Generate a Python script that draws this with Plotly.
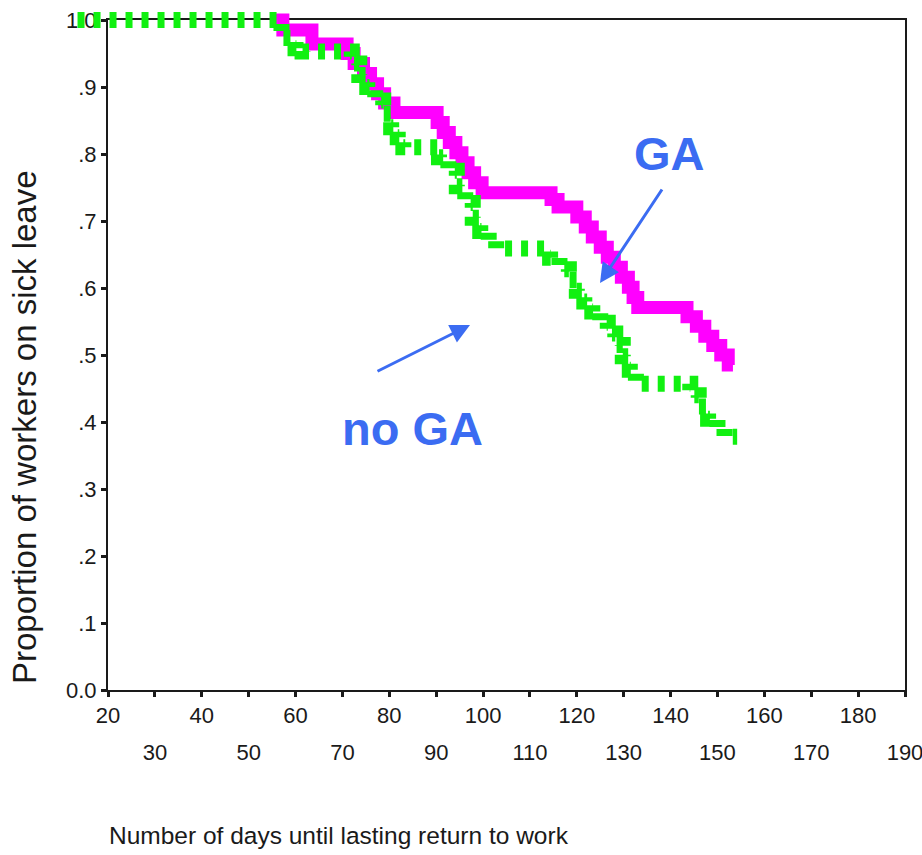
import plotly.graph_objects as go

# ---- data ----
ga_time = [55.5, 57.3, 63.5, 71, 72.5, 74.5, 76, 77.5, 79, 81,
           90.2, 91.5, 92.8, 94.2, 95.5, 96.8, 98.2, 99.8,
           114.5, 116,
           120, 121.8, 123.3, 125, 126.5, 128, 129.5, 131, 132, 133,
           143.5, 145.5, 147.3, 149, 150.7, 152.3, 153.3]
ga_surv = [1.0, 0.985, 0.964, 0.950, 0.935, 0.920, 0.905, 0.890, 0.876, 0.862,
           0.847, 0.832, 0.817, 0.802, 0.787, 0.772, 0.757, 0.742,
           0.732, 0.721,
           0.706, 0.691, 0.676, 0.661, 0.646, 0.631, 0.616, 0.601, 0.586, 0.571,
           0.557, 0.543, 0.528, 0.514, 0.500, 0.485, 0.485]

nga_time = [13.5, 57, 60, 61.5, 72, 73.6, 75.3, 77, 78.7, 80.4, 81.8, 83,
            90.6, 92.6, 94.4, 96.2, 97.8, 99.4, 101.2, 102.8,
            114.3, 116.3, 118.3, 120, 121.6, 123.3, 125, 126.6, 128.2, 129.8, 131.3, 132.6,
            144.2, 146, 148, 150, 151.5, 154.2]
nga_surv = [1.0, 0.973, 0.958, 0.953, 0.935, 0.918, 0.900, 0.880, 0.860, 0.840, 0.825, 0.810,
            0.795, 0.775, 0.752, 0.727, 0.705, 0.685, 0.670, 0.659,
            0.645, 0.628, 0.612, 0.596, 0.580, 0.565, 0.548, 0.532, 0.515, 0.498, 0.478, 0.457,
            0.440, 0.423, 0.405, 0.390, 0.378, 0.378]

x_ticks = list(range(20, 200, 10))
x_labels_row1 = [str(v) if v % 20 == 0 else "" for v in x_ticks]
x_ticks_row2 = list(range(30, 200, 20))
x_labels_row2 = [str(v) for v in x_ticks_row2]
y_ticks = [0.0, 0.1, 0.2, 0.3, 0.4, 0.5, 0.6, 0.7, 0.8, 0.9, 1.0]
y_labels = ["0.0", ".1", ".2", ".3", ".4", ".5", ".6", ".7", ".8", ".9", "1.0"]

# ---- geometry (pixels in the reference picture) ----
W, H = 922, 855
ML, MR, MT, MB = 40, 0, 0, 0
PL, PR = ML, W - MR                  # plotting area in px
PT, PB = MT, H - MB
FL, FR, FT, FB = 108, 905, 20, 690   # frame of the visible axes
X0, X1, Y0, Y1 = 20, 190, 0.0, 1.0

def px2fx(px):
    return (px - PL) / (PR - PL)

def py2fy(py):
    return (PB - py) / (PB - PT)

xs = (X1 - X0) / (FR - FL)
ys = (Y1 - Y0) / (FB - FT)
x2_range = [X0 - (FL - PL) * xs, X1 + (PR - FR) * xs]
y2_range = [Y0 - (PB - FB) * ys, Y1 + (FT - PT) * ys]

def dx(px):
    return X0 + (px - FL) * xs

def dy(py):
    return Y0 + (FB - py) * ys

BLUE = "#3b6cf2"
AX = "#1a1a1a"
FONT = "Liberation Sans, Arial, sans-serif"
TICKFONT = dict(size=22, color=AX, family=FONT)

fig = go.Figure()
fig.add_trace(go.Scatter(x=[], y=[], xaxis="x", yaxis="y", showlegend=False))
fig.add_trace(go.Scatter(x=[], y=[], xaxis="x3", yaxis="y", showlegend=False))
fig.add_trace(go.Scatter(x=ga_time, y=ga_surv, mode="lines", line_shape="hv",
                         line=dict(color="#ff00ff", width=13),
                         xaxis="x2", yaxis="y2", name="GA", showlegend=False))
fig.add_trace(go.Scatter(x=nga_time, y=nga_surv, mode="lines", line_shape="hv",
                         line=dict(color="#11f011", width=16, dash="7px,9px"),
                         xaxis="x2", yaxis="y2", name="no GA", showlegend=False))

fig.update_layout(
    width=W, height=H,
    margin=dict(l=ML, r=MR, t=MT, b=MB, autoexpand=False),
    paper_bgcolor="white", plot_bgcolor="rgba(0,0,0,0)",
    font=dict(family=FONT, color=AX),
    hovermode=False,
    xaxis=dict(domain=[px2fx(FL), px2fx(FR)], range=[X0, X1], anchor="y",
               tickvals=x_ticks, ticktext=x_labels_row1,
               ticks="outside", ticklen=5, tickwidth=3, tickcolor=AX,
               showline=True, linecolor=AX, linewidth=2, mirror=True,
               showgrid=False, zeroline=False, tickfont=TICKFONT,
               ticklabeloverflow="allow"),
    xaxis3=dict(overlaying="x", range=[X0, X1], anchor="free", position=py2fy(728),
                side="bottom", tickvals=x_ticks_row2, ticktext=x_labels_row2,
                ticks="outside", ticklen=5, tickcolor="rgba(0,0,0,0)",
                showline=False, showgrid=False, zeroline=False, tickfont=TICKFONT,
                ticklabeloverflow="allow"),
    yaxis=dict(domain=[py2fy(FB), py2fy(FT)], range=[Y0, Y1], anchor="x",
               tickvals=y_ticks, ticktext=y_labels,
               ticks="outside", ticklen=5, tickwidth=3, tickcolor=AX,
               showline=True, linecolor=AX, linewidth=2, mirror=True,
               showgrid=False, zeroline=False, tickfont=TICKFONT,
               ticklabeloverflow="allow"),
    xaxis2=dict(domain=[0, 1], range=x2_range, anchor="y2", visible=False),
    yaxis2=dict(domain=[0, 1], range=y2_range, anchor="x2", visible=False),
)

annotations = [
    dict(text="Proportion of workers on sick leave", textangle=-90,
         xref="paper", yref="paper", x=px2fx(25), y=py2fy(427),
         xanchor="center", yanchor="middle", showarrow=False,
         font=dict(size=33, color=AX, family=FONT)),
    dict(text="Number of days until lasting return to work",
         xref="paper", yref="paper", x=px2fx(107), y=py2fy(835),
         xanchor="left", yanchor="middle", showarrow=False,
         font=dict(size=24.5, color=AX, family=FONT)),
    dict(text="<b>GA</b>", xref="x", yref="y", x=dx(669), y=dy(153),
         showarrow=False, font=dict(size=47, color=BLUE, family=FONT)),
    dict(text="<b>no GA</b>", xref="x", yref="y", x=dx(412), y=dy(428),
         showarrow=False, font=dict(size=47, color=BLUE, family=FONT)),
    dict(text="", xref="x", yref="y", x=dx(600), y=dy(283), ax=663 - 600, ay=188 - 283,
         showarrow=True, arrowhead=2, arrowsize=1.3, arrowwidth=3, arrowcolor=BLUE),
    dict(text="", xref="x", yref="y", x=dx(470), y=dy(325), ax=376 - 470, ay=372 - 325,
         showarrow=True, arrowhead=2, arrowsize=1.3, arrowwidth=3, arrowcolor=BLUE),
]
fig.update_layout(annotations=annotations)

fig.write_html("out.html",
               config={"displayModeBar": False},
               post_script="document.body.style.margin='0';"
                           "document.body.style.overflow='hidden';")
